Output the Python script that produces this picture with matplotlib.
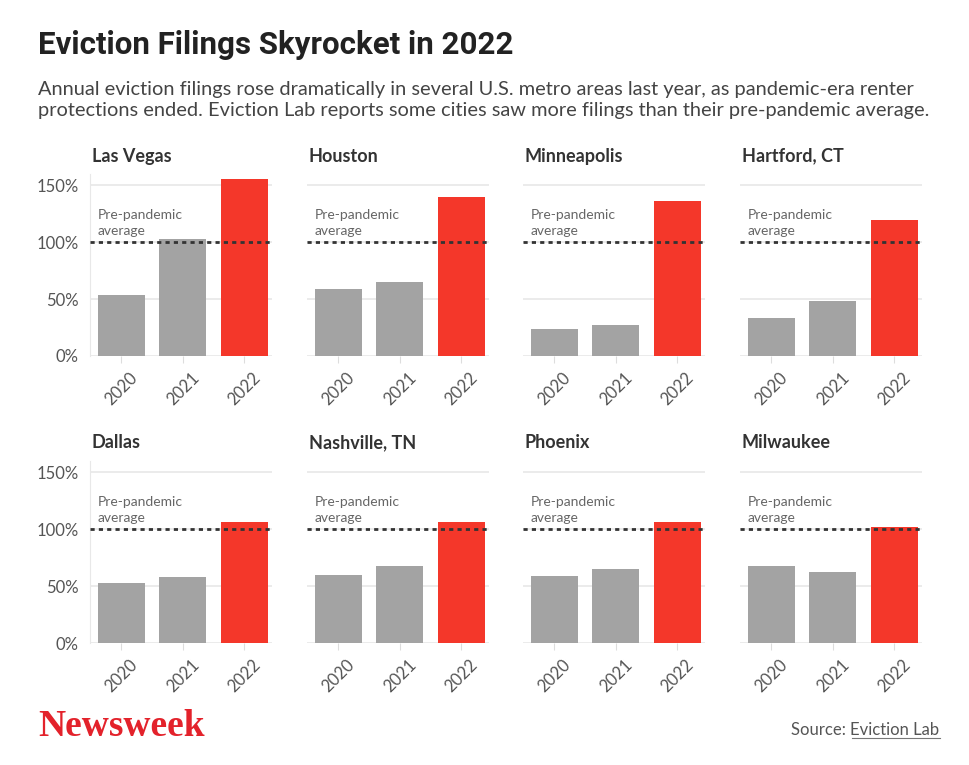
import matplotlib
matplotlib.use("Agg")
import matplotlib.pyplot as plt
from matplotlib.ticker import FuncFormatter

# data (share of pre-pandemic average, %)
cities = ["Las Vegas", "Houston", "Minneapolis", "Hartford, CT",
          "Dallas", "Nashville, TN", "Phoenix", "Milwaukee"]
years = ["2020", "2021", "2022"]
v2020 = [54, 59, 24, 33, 53, 60, 59, 68]
v2021 = [103, 65, 27, 48, 58, 68, 65, 62]
v2022 = [156, 140, 136, 120, 106, 106, 106, 102]
baseline = 100

W, H = 970, 765
fig = plt.figure(figsize=(W / 100, H / 100), dpi=100)
fig.patch.set_facecolor("white")

GRAY = "#a3a3a3"
RED = "#f4372a"
TXT = "#555555"
BODY = ["Lato", "DejaVu Sans"]

def px(x, y, w, h):
    return [x / W, 1 - (y + h) / H, w / W, h / H]

fig.text(38 / W, 1 - 45 / H, "Eviction Filings Skyrocket in 2022", fontsize=22.5,
         fontweight="bold", family=["Roboto", "DejaVu Sans"], color="#222222",
         va="center", ha="left")
fig.text(38 / W, 1 - 100 / H,
         "Annual eviction filings rose dramatically in several U.S. metro areas last year, as pandemic-era renter\n"
         "protections ended. Eviction Lab reports some cities saw more filings than their pre-pandemic average.",
         fontsize=14.4, family=BODY, color="#444444", va="center", ha="left", linespacing=1.3)

col_x = [90, 307, 523, 740]
row_top = [174, 461]
aw, ah = 182, 182

for i, city in enumerate(cities):
    r, c = divmod(i, 4)
    ax = fig.add_axes(px(col_x[c], row_top[r], aw, ah))
    vals = [v2020[i], v2021[i], v2022[i]]
    ax.bar(range(3), vals, width=0.76, color=[GRAY, GRAY, RED], zorder=2)
    ax.set_xlim(-0.51, 2.45)
    ax.set_ylim(0, 160)
    ax.set_yticks([0, 50, 100, 150])
    ax.yaxis.set_major_formatter(FuncFormatter(lambda v, p: f"{int(v)}%"))
    ax.grid(axis="y", color="#e8e8e8", linewidth=1.2, zorder=0)
    ax.axhline(baseline, color="#333333", linestyle=(0, (1.5, 1.5)), linewidth=2, zorder=3)
    ax.text(0.04, 0.73, "Pre-pandemic\naverage", transform=ax.transAxes, fontsize=10,
            family=BODY, color="#666666", va="center", ha="left", linespacing=1.45)
    for s in ["top", "right", "bottom"]:
        ax.spines[s].set_visible(False)
    ax.spines["left"].set_visible(c == 0)
    ax.spines["left"].set_color("#e8e8e8")
    ax.set_xticks(range(3))
    ax.set_xticklabels(years, rotation=45, ha="center", fontsize=12, family=BODY, color=TXT)
    ax.tick_params(axis="x", length=5, color="#dddddd", pad=5)
    ax.tick_params(axis="y", length=0, labelsize=12, labelcolor=TXT, pad=8)
    if c != 0:
        ax.set_yticklabels([])
    for t in ax.get_yticklabels():
        t.set_family(BODY)
    ax.set_title(city, loc="left", fontsize=13, fontweight="bold", family=BODY,
                 color="#333333", pad=9, x=0.01)

fig.text(38 / W, 1 - 727 / H, "Newsweek", fontsize=27, fontweight="bold",
         family=["Liberation Serif", "DejaVu Serif"], color="#e3222b", va="center", ha="left")
fig.text(850 / W, 1 - 730 / H, "Source: ", fontsize=12, family=BODY, color="#555555",
         va="center", ha="right")
fig.text(850 / W, 1 - 730 / H, "Eviction Lab", fontsize=12, family=BODY, color="#555555",
         va="center", ha="left")
fig.add_artist(plt.Line2D([852 / W, 940 / W], [1 - 738 / H, 1 - 738 / H], color="#777777", linewidth=0.8))

fig.savefig("out.png", dpi=100, facecolor="white")
